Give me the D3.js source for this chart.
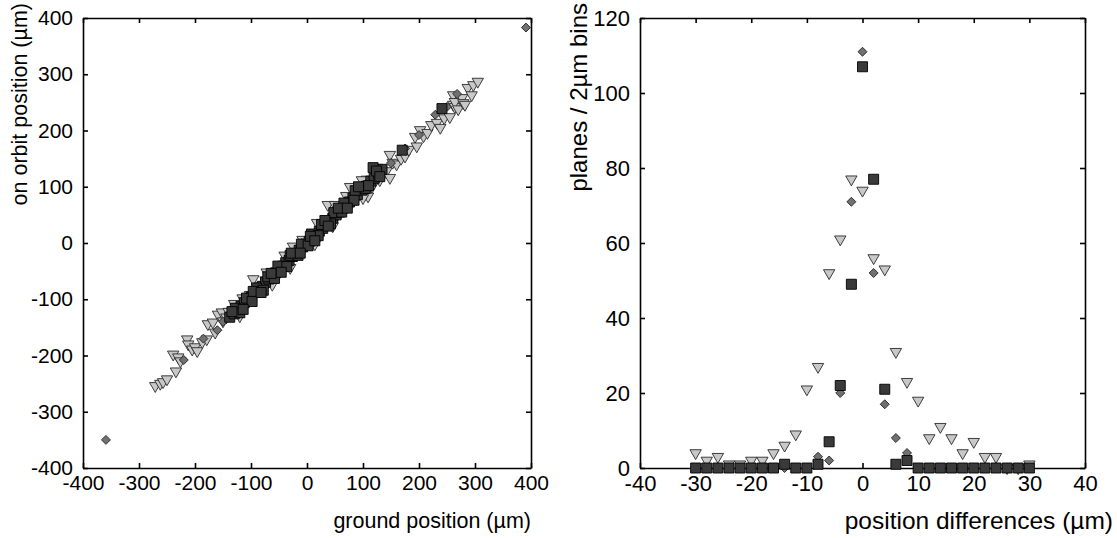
<!DOCTYPE html>
<html>
<head>
<meta charset="utf-8">
<script src="https://cdn.jsdelivr.net/npm/d3@7/dist/d3.min.js"></script>
<style>
	body { margin:0; background:#fff; }
	svg { display:block; font-family:"Liberation Sans", Arial, sans-serif; }
	.tick text { fill:#000; }
	.left-panel .tick text { font-size:21px; }
	.right-panel .tick text { font-size:22px; }
	.axis-label { fill:#000; }
</style>
</head>
<body>
<svg id="chart" width="1117" height="538"></svg>
<script>
// ---- left panel: ground vs on orbit position (µm) ----
const leftTicks = [-400,-300,-200,-100,0,100,200,300,400];

const leftTriangles = [
	[-271,-254],[-262,-250],[-257,-247],[-250,-242],[-234,-228],[-239,-198],[-230,-203],[-226,-210],
	[-214,-171],[-212,-180],[-205,-189],[-200,-185],[-196,-192],[-187,-176],[-179,-171],[-177,-144],
	[-168,-141],[-164,-159],[-159,-127],[-152,-123],[-150,-139],[-144,-132],[-140,-122],[-133,-128],
	[-126,-114],[-118,-109],[-110,-104],[-102,-92],[-96,-64],[-90,-84],[-82,-78],[-74,-66],
	[-66,-62],[-58,-52],[-50,-47],[-42,-38],[-34,-30],[-25,-6],[-20,-18],[-12,-10],
	[-4,-2],[4,2],[12,10],[20,18],[28,24],[37,68],[44,40],[52,46],
	[60,54],[68,60],[77,100],[80,72],[88,78],[95,88],[107,113],[109,83],
	[116,100],[125,134],[130,112],[136,121],[142,128],[148,157],[148,116],[153,143],
	[160,140],[168,150],[175,154],[182,166],[193,189],[196,172],[202,201],[208,190],
	[215,196],[222,210],[232,214],[238,205],[245,222],[255,224],[261,263],[261,246],
	[264,242],[264,251],[270,238],[277,258],[279,249],[282,246],[287,276],[294,263],
	[297,281],[305,287],[-130,-108],[-115,-98],[-72,-52],[-40,-22],[-8,6],[18,36],
	[50,68],[70,84],[98,112],[118,104],[-120,-130],[-62,-74],[-30,-44],[14,-2],[46,30],[100,80]
];

const leftDiamonds = [
	[-359,-350],[391,383],[-220,-208],[-185,-170],[-160,-155],[-150,-140],[-135,-124],[-120,-112],
	[-95,-90],[-70,-66],[-45,-42],[-20,-18],[5,4],[30,28],[55,52],[60,58],
	[95,95],[110,104],[120,118],[130,130],[150,142],[175,168],[200,192],[229,228],
	[250,242],[268,265]
];

const leftSquares = [
	[-138,-132],[-130,-126],[-124,-117],[-118,-113],[-112,-106],[-105,-101],[-99,-96],[-92,-88],
	[-86,-80],[-80,-77],[-74,-70],[-68,-64],[-62,-60],[-56,-53],[-50,-47],[-44,-42],
	[-38,-35],[-32,-31],[-26,-24],[-20,-19],[-14,-13],[-8,-7],[-2,-2],[4,3],
	[10,9],[16,15],[22,21],[28,26],[34,33],[40,38],[46,44],[52,50],
	[58,55],[64,62],[70,67],[76,73],[82,80],[90,86],[98,94],[106,101],
	[114,110],[120,115],[128,122],[134,131],[170,165],[241,239],
	[-128,-116],[-108,-98],[-90,-80],[-70,-60],[-52,-41],[-30,-22],[-10,-2],[8,16],
	[26,33],[48,54],[66,71],[86,93],[-120,-124],[-98,-104],[-78,-84],[-58,-63],
	[-36,-42],[-16,-22],[2,-5],[20,13],[42,34],[62,55],[84,76],[104,97],[118,134],
	[-134,-122],[-114,-118],[-96,-86],[-82,-88],[-64,-54],[-46,-52],[-28,-18],[-12,-18],
	[6,12],[14,4],[32,40],[38,30],[56,62],[72,62],[92,100],[110,102],[124,128],[130,118]
];

// ---- right panel: histogram of position differences ----
const bins = [-30,-28,-26,-24,-22,-20,-18,-16,-14,-12,-10,-8,-6,-4,-2,0,2,4,6,8,10,12,14,16,18,20,22,24,26,28,30];
const histTriangles = [4,2,3,1,1,2,2,4,6,9,21,27,52,61,77,74,56,53,31,23,18,8,11,8,4,7,3,3,0,0,1];
const histDiamonds  = [0,0,0,0,0,0,0,0,0,0,0,3,2,20,71,111,52,17,8,4,0,0,0,0,0,0,0,0,0,0,0];
const histSquares   = [0,0,0,0,0,0,0,0,1,0,0,1,7,22,49,107,77,21,1,2,0,0,0,0,0,0,0,0,0,0,0];
const rightXTicks = [-40,-30,-20,-10,0,10,20,30,40];
const rightYTicks = [0,20,40,60,80,100,120];

const svg = d3.select('#chart');

const styles = {
	tri: {fill:'#c8c8c8', stroke:'#2a2a2a'},
	dia: {fill:'#707070', stroke:'#2a2a2a'},
	sq:  {fill:'#3a3a3a', stroke:'#000'}
};

const triSym = d3.symbol().type(d3.symbolTriangle).size(56)();
const diaSym = d3.symbol().type(d3.symbolSquare).size(40)();
const sqSym  = d3.symbol().type(d3.symbolSquare).size(100)();

function frame(g, x, y, xt, yt, w, h) {
	const fmt = d=>String(d); // plain hyphen minus like the original
	const bottom = g.append('g').attr('transform',`translate(0,${h})`)
		.call(d3.axisBottom(x).tickValues(xt).tickFormat(fmt).tickSizeInner(-5).tickSizeOuter(0).tickPadding(7));
	const left = g.append('g')
		.call(d3.axisLeft(y).tickValues(yt).tickFormat(fmt).tickSizeInner(-5).tickSizeOuter(0).tickPadding(10));
	const top = g.append('g')
		.call(d3.axisTop(x).tickValues(xt).tickSizeInner(-5).tickSizeOuter(0).tickFormat(''));
	const right = g.append('g').attr('transform',`translate(${w},0)`)
		.call(d3.axisRight(y).tickValues(yt).tickSizeInner(-5).tickSizeOuter(0).tickFormat(''));
	[bottom,left,top,right].forEach(a=>{
		a.select('.domain').attr('stroke','#000').attr('stroke-width',1.6);
		a.selectAll('.tick line').attr('stroke','#000').attr('stroke-width',1.6);
	});
	bottom.selectAll('text').attr('dy','0.72em');
}

function drawPoints(g, data, sym, st, xs, ys, xv, yv) {
	g.append('g').selectAll('path').data(data).enter().append('path')
		.attr('d', sym)
		.attr('transform', d=>`translate(${xs(xv(d))},${ys(yv(d))})` + (sym===triSym ? ' rotate(180)' : sym===diaSym ? ' rotate(45)' : ''))
		.attr('fill', st.fill)
		.attr('stroke', st.stroke)
		.attr('stroke-width', 0.9);
}

// left panel
{
	const m = {left:83, top:18};
	const W = 448, H = 450;
	const g = svg.append('g').attr('class','left-panel').attr('transform',`translate(${m.left},${m.top})`);
	const x = d3.scaleLinear().domain([-400,400]).range([0,W]);
	const y = d3.scaleLinear().domain([-400,400]).range([H,0]);
	frame(g, x, y, leftTicks, leftTicks, W, H);
	drawPoints(g, leftTriangles, triSym, styles.tri, x, y, d=>d[0], d=>d[1]);
	drawPoints(g, leftDiamonds, diaSym, styles.dia, x, y, d=>d[0], d=>d[1]);
	drawPoints(g, leftSquares, sqSym, styles.sq, x, y, d=>d[0], d=>d[1]);

	svg.append('text').attr('class','axis-label').style('font-size','21.5px')
		.attr('x', m.left+W).attr('y', 528).attr('text-anchor','end')
		.text('ground position (µm)');
	svg.append('text').attr('class','axis-label').style('font-size','21.5px')
		.attr('transform','translate(27,3) rotate(-90)').attr('text-anchor','end')
		.text('on orbit position (µm)');
}

// right panel
{
	const m = {left:640, top:18};
	const W = 445, H = 450;
	const g = svg.append('g').attr('class','right-panel').attr('transform',`translate(${m.left},${m.top})`);
	const x = d3.scaleLinear().domain([-40,40]).range([0,W]);
	const y = d3.scaleLinear().domain([0,120]).range([H,0]);
	frame(g, x, y, rightXTicks, rightYTicks, W, H);
	const idx = bins.map((b,i)=>i);
	drawPoints(g, idx, triSym, styles.tri, x, y, i=>bins[i], i=>histTriangles[i]);
	drawPoints(g, idx, diaSym, styles.dia, x, y, i=>bins[i], i=>histDiamonds[i]);
	drawPoints(g, idx, sqSym, styles.sq, x, y, i=>bins[i], i=>histSquares[i]);

	svg.append('text').attr('class','axis-label').style('font-size','24.5px')
		.attr('x', 1113).attr('y', 529).attr('text-anchor','end')
		.text('position differences (µm)');
	svg.append('text').attr('class','axis-label').style('font-size','24px')
		.attr('transform','translate(587,3) rotate(-90)').attr('text-anchor','end')
		.text('planes / 2µm bins');
}
</script>
</body>
</html>
